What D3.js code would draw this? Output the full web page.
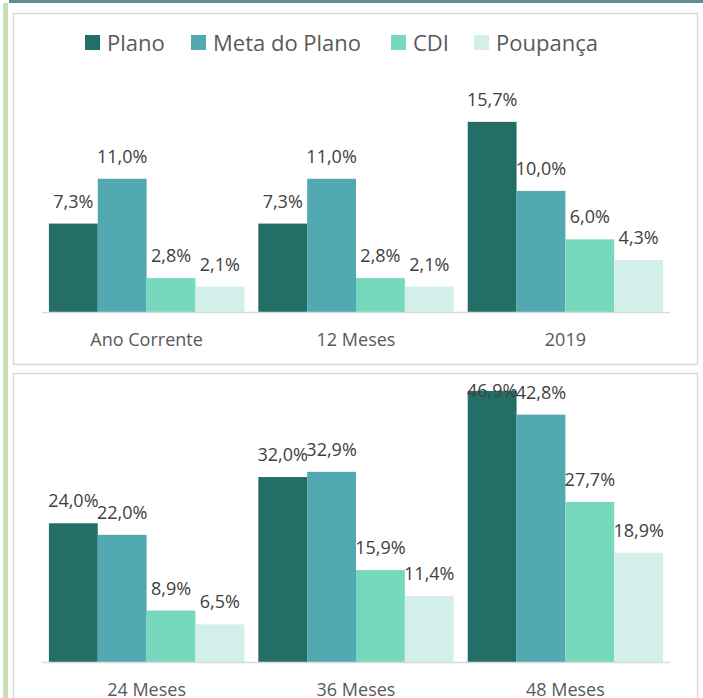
<!DOCTYPE html>
<html>
<head>
<meta charset="utf-8">
<script src="https://cdn.jsdelivr.net/npm/d3@7"></script>
<style>
  body { margin: 0; background: #fff; }
  text { font-family: "Open Sans", sans-serif; fill: #595959; }
  .val { fill: #404040; }
</style>
</head>
<body>
<div id="chart"></div>
<script>
// chart data
const series = ["Plano", "Meta do Plano", "CDI", "Poupança"];
const colors = ["#236e66", "#52a9b2", "#76d8bc", "#d2f0e9"];
const topCats = ["Ano Corrente", "12 Meses", "2019"];
const bottomCats = ["24 Meses", "36 Meses", "48 Meses"];
const plano = [7.3, 7.3, 15.7, 24.0, 32.0, 46.9];
const meta = [11.0, 11.0, 10.0, 22.0, 32.9, 42.8];
const cdi = [2.8, 2.8, 6.0, 8.9, 15.9, 27.7];
const poupanca = [2.1, 2.1, 4.3, 6.5, 11.4, 18.9];

const width = 703, height = 698;
const allValues = [plano, meta, cdi, poupanca];
const fmt = v => d3.format(".1f")(v).replace(".", ",") + "%";

const svg = d3.select("#chart")
  .append("svg")
  .attr("width", width)
  .attr("height", height);

// decorative frame bits
svg.append("rect").attr("x", 9).attr("y", 0).attr("width", width - 9).attr("height", 3).attr("fill", "#5a9090");
svg.append("rect").attr("x", 3).attr("y", 3).attr("width", 5).attr("height", height - 3).attr("fill", "#c6dfb4");

// panel boxes
svg.append("rect").attr("x", 13.5).attr("y", 13.5).attr("width", 684).attr("height", 351)
  .attr("fill", "none").attr("stroke", "#d9d9d9").attr("stroke-width", 1.5);
svg.append("rect").attr("x", 13.5).attr("y", 373.5).attr("width", 684).attr("height", 340)
  .attr("fill", "none").attr("stroke", "#d9d9d9").attr("stroke-width", 1.5);

// legend
const legendX = [85, 191, 391, 474];
const legend = svg.append("g").selectAll("g")
  .data(series)
  .join("g")
  .attr("transform", (d, i) => `translate(${legendX[i]},35)`);
legend.append("rect").attr("width", 15).attr("height", 15).attr("fill", (d, i) => colors[i]);
legend.append("text").attr("x", 22).attr("y", 15.5).style("font-size", "22px").text(d => d);

function panel(cats, offset, yMax, baseY, topY, labelMin) {
  const x = d3.scaleBand().domain(cats).range([42, 670]).paddingInner(0.067).paddingOuter(0.033);
  const xs = d3.scaleBand().domain(series).range([0, x.bandwidth()]);
  const y = d3.scaleLinear().domain([0, yMax]).range([baseY, topY]);

  const g = svg.append("g");
  const groups = g.selectAll("g")
    .data(cats)
    .join("g")
    .attr("transform", d => `translate(${x(d)},0)`);

  const bars = groups.selectAll("g")
    .data((c, ci) => series.map((s, si) => ({ s, si, v: allValues[si][ci + offset] })))
    .join("g");

  bars.append("rect")
    .attr("x", d => xs(d.s))
    .attr("width", xs.bandwidth())
    .attr("y", d => y(d.v))
    .attr("height", d => baseY - y(d.v))
    .attr("fill", d => colors[d.si]);

  bars.append("text")
    .attr("class", "val")
    .attr("x", d => xs(d.s) + xs.bandwidth() / 2)
    .attr("y", d => Math.max(y(d.v) - 16, labelMin))
    .attr("text-anchor", "middle")
    .style("font-size", "18px")
    .text(d => fmt(d.v));

  g.append("line")
    .attr("x1", 42).attr("x2", 670)
    .attr("y1", baseY + 0.5).attr("y2", baseY + 0.5)
    .attr("stroke", "#d9d9d9").attr("stroke-width", 1.5);

  g.selectAll(".cat")
    .data(cats)
    .join("text")
    .attr("class", "cat")
    .attr("x", d => x(d) + x.bandwidth() / 2)
    .attr("y", baseY + 33.5)
    .attr("text-anchor", "middle")
    .style("font-size", "18px")
    .text(d => d);
}

panel(topCats, 0, 18, 312, 94, 0);
panel(bottomCats, 3, 50, 662, 373, 397);
</script>
</body>
</html>
